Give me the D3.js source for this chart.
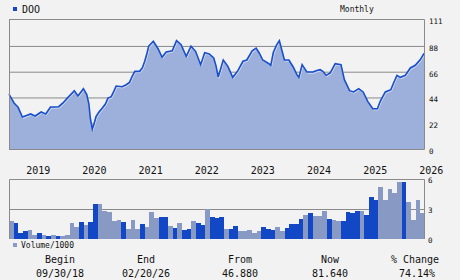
<!DOCTYPE html>
<html>
<head>
<meta charset="utf-8">
<script src="https://cdn.jsdelivr.net/npm/d3@7"></script>
<style>
  body { margin: 0; background: #f2f2f2; }
  svg { display: block; }
  text { font-family: "DejaVu Sans Mono", "Liberation Mono", monospace; fill: #111; }
</style>
</head>
<body>
<svg id="chart" width="460" height="280"></svg>
<script>
// price (date, close)
var priceDates = ["2018-09-30","2018-10-15","2018-11-02","2018-11-28","2018-12-15","2018-12-26",
  "2019-01-21","2019-02-18","2019-03-19","2019-04-27","2019-05-27","2019-06-27","2019-07-23",
  "2019-08-19","2019-09-16","2019-10-19","2019-11-29","2019-12-23","2020-01-27","2020-02-18",
  "2020-03-03","2020-03-12","2020-03-25","2020-04-05","2020-04-18","2020-05-06","2020-05-29",
  "2020-06-18","2020-07-05","2020-07-26","2020-08-14","2020-08-27","2020-10-05","2020-10-31",
  "2020-11-22","2020-12-09","2020-12-27","2021-01-26","2021-02-13","2021-03-01","2021-03-16",
  "2021-03-27","2021-04-26","2021-05-27","2021-06-22","2021-07-18","2021-08-27","2021-09-24",
  "2021-10-24","2021-11-26","2021-12-27","2022-01-26","2022-02-28","2022-03-26","2022-04-25",
  "2022-05-24","2022-06-08","2022-06-22","2022-07-25","2022-08-24","2022-09-25","2022-10-28",
  "2022-11-30","2022-12-25","2023-01-29","2023-02-24","2023-03-16","2023-04-08","2023-05-20",
  "2023-05-30","2023-06-16","2023-07-08","2023-07-25","2023-08-12","2023-08-27","2023-09-25",
  "2023-10-24","2023-11-16","2023-11-29","2023-12-20","2024-01-20","2024-02-28","2024-03-20",
  "2024-04-15","2024-05-03","2024-05-24","2024-06-20","2024-07-22","2024-08-29","2024-09-20",
  "2024-10-24","2024-11-19","2024-12-22","2025-01-20","2025-02-19","2025-03-24","2025-04-23",
  "2025-05-11","2025-06-13","2025-07-19","2025-08-06","2025-08-28","2025-09-19","2025-10-21",
  "2025-11-23","2025-12-25","2026-01-27","2026-02-20"];
var priceValues = [46.88,43.5,39.3,35.6,30.7,27.3,
  28.5,29.9,28.2,31.6,29.9,35.9,35.9,
  36.1,39.3,44.1,49.8,45.3,51.5,46.4,
  38.4,26.5,17.1,21.3,27.6,31.3,35.0,
  38.4,43.5,44.7,49.8,53.8,53.2,54.9,
  56.9,62.1,66.3,66.3,69.2,74.9,82.0,
  87.9,92.0,85.6,78.3,82.8,83.9,92.5,
  89.1,79.1,87.7,83.4,72.0,82.2,81.1,
  77.7,71.0,61.5,76.0,70.6,61.2,66.9,
  74.9,76.0,83.9,86.2,82.0,76.0,72.6,
  71.3,82.6,89.1,92.5,83.4,76.0,76.0,
  69.8,63.5,61.2,72.0,65.7,65.7,66.9,
  67.7,66.3,62.9,64.9,72.8,72.0,59.2,
  49.8,48.7,51.5,48.7,40.7,34.4,34.4,
  40.7,48.7,50.6,56.4,62.9,61.2,62.9,
  69.2,71.5,76.3,81.64];

// monthly volume / 1000, and whether the month closed down (d) or up (l)
var volValues = [1.81,1.61,0.60,0.80,0.91,0.40,0.60,0.40,0.30,0.40,0.30,0.30,0.40,1.61,1.21,
  1.71,1.41,1.71,3.52,3.52,2.82,2.72,1.81,1.91,1.71,1.01,1.91,1.01,1.51,1.21,
  2.72,2.11,2.21,2.21,1.31,1.11,1.61,0.91,1.01,1.81,1.61,1.41,3.02,2.21,2.11,
  2.21,1.01,1.01,1.31,0.80,0.80,0.91,0.60,0.80,1.21,1.01,0.91,1.21,0.80,1.11,
  1.51,1.51,2.01,2.41,2.61,2.31,2.31,2.82,2.01,1.91,1.81,1.81,2.72,2.61,2.82,
  2.82,2.41,4.22,3.92,5.23,3.92,5.03,4.63,5.73,5.73,3.72,1.91,3.92,2.61];
var volDown = ("ldddlldldl" + "dlllldlddl" + "lllldllldl" + "llddldlddl" + "ddldddlddl" +
  "lllldddlld" + "dddldllldl" + "lddddldddl" + "lllldllll")
  .split("").map(function (c) { return c == "d"; });

var yearTicks = [2019, 2020, 2021, 2022, 2023, 2024, 2025, 2026];
var priceTicks = [0, 22, 44, 66, 88, 111];
var volTicks = [0, 3, 6];
var footLabels = ["Begin", "End", "From", "Now", "% Change"];
var footValues = ["09/30/18", "02/20/26", "46.880", "81.640", "74.14%"];

var parse = d3.timeParse("%Y-%m-%d");
var price = priceDates.map(function (d, i) { return { date: parse(d), value: priceValues[i] }; });

var svg = d3.select("#chart");
var left = 9, right = 424;
var gridColor = "#8a8a8a";

var x = d3.scaleTime()
  .domain([parse("2018-09-30"), parse("2026-02-20")])
  .range([left, right]);
var y = d3.scaleLinear().domain([0, 111]).range([149, 19]);

// grid behind the area
svg.append("g").selectAll("line")
  .data(priceTicks)
  .join("line")
  .attr("x1", left).attr("x2", right)
  .attr("y1", function (d) { return y(d) + 0.5; })
  .attr("y2", function (d) { return y(d) + 0.5; })
  .attr("stroke", gridColor)
  .attr("stroke-width", 1);

svg.append("path")
  .datum(price)
  .attr("fill", "#9db0dc")
  .attr("d", d3.area()
    .x(function (d) { return x(d.date); })
    .y0(y(0))
    .y1(function (d) { return y(d.value); }));

// light fringe under the line
svg.append("path")
  .datum(price)
  .attr("fill", "none")
  .attr("stroke", "#ffffff")
  .attr("stroke-opacity", 0.55)
  .attr("stroke-width", 1)
  .attr("transform", "translate(0.8,1.2)")
  .attr("d", d3.line()
    .x(function (d) { return x(d.date); })
    .y(function (d) { return y(d.value); }));

svg.append("path")
  .datum(price)
  .attr("fill", "none")
  .attr("stroke", "#1a4fcc")
  .attr("stroke-width", 1.6)
  .attr("stroke-linejoin", "miter")
  .attr("d", d3.line()
    .x(function (d) { return x(d.date); })
    .y(function (d) { return y(d.value); }));

// frame of the price panel
svg.append("path")
  .attr("fill", "none")
  .attr("stroke", gridColor)
  .attr("stroke-width", 1)
  .attr("d", "M" + (left + 0.5) + "," + y(0) + "V" + (y(111) + 0.5) + "H" + (right + 0.5) + "V" + (y(0) + 0.5) + "H" + left);

svg.append("g").selectAll("text")
  .data(priceTicks)
  .join("text")
  .attr("x", 429)
  .attr("y", function (d) { return y(d) + 5; })
  .style("font-size", "7.5px")
  .text(function (d) { return d; });

svg.append("g").selectAll("text")
  .data(yearTicks)
  .join("text")
  .attr("x", function (d) { return x(new Date(d, 0, 1)) + 15; })
  .attr("y", 174)
  .attr("text-anchor", "middle")
  .style("font-size", "10px")
  .text(function (d) { return d; });

// title + legend square
svg.append("rect").attr("x", 13).attr("y", 7).attr("width", 4).attr("height", 4).attr("fill", "#1448c8");
svg.append("text").attr("x", 22).attr("y", 13).style("font-size", "10px").text("DOO");
svg.append("text").attr("x", 340).attr("y", 12).style("font-size", "8px").text("Monthly");

// volume panel
var xv = d3.scaleBand().domain(d3.range(volValues.length)).range([left, right + 1]).padding(0);
var yv = d3.scaleLinear().domain([0, 6]).range([239, 179]);

svg.append("line")
  .attr("x1", left).attr("x2", right)
  .attr("y1", yv(3) + 0.5).attr("y2", yv(3) + 0.5)
  .attr("stroke", gridColor);

svg.append("g").selectAll("rect")
  .data(volValues)
  .join("rect")
  .attr("x", function (d, i) { return xv(i); })
  .attr("width", xv.bandwidth())
  .attr("y", function (d) { return yv(d); })
  .attr("height", function (d) { return yv(0) - yv(d); })
  .attr("fill", function (d, i) { return volDown[i] ? "#1248c6" : "#8899c4"; })
  .attr("shape-rendering", "crispEdges");

svg.append("path")
  .attr("fill", "none")
  .attr("stroke", gridColor)
  .attr("d", "M" + (left + 0.5) + "," + yv(0) + "V" + (yv(6) + 0.5) + "H" + (right + 0.5) + "V" + yv(0));

svg.append("g").selectAll("text")
  .data(volTicks)
  .join("text")
  .attr("x", 428)
  .attr("y", function (d) { return yv(d) + 4; })
  .style("font-size", "7.5px")
  .text(function (d) { return d; });

svg.append("rect").attr("x", 13).attr("y", 243).attr("width", 4).attr("height", 4).attr("fill", "#8899c4");
svg.append("text").attr("x", 21).attr("y", 248).style("font-size", "8px").text("Volume/1000");

// footer
var footX = [60, 146, 240, 330, 415];
svg.append("g").selectAll("text")
  .data(footLabels)
  .join("text")
  .attr("x", function (d, i) { return footX[i]; })
  .attr("y", 263)
  .attr("text-anchor", "middle")
  .style("font-size", "10px")
  .text(function (d) { return d; });
svg.append("g").selectAll("text")
  .data(footValues)
  .join("text")
  .attr("x", function (d, i) { return footX[i] + (i == 4 ? 2 : 0); })
  .attr("y", 277)
  .attr("text-anchor", "middle")
  .style("font-size", "10px")
  .text(function (d) { return d; });
</script>
</body>
</html>
